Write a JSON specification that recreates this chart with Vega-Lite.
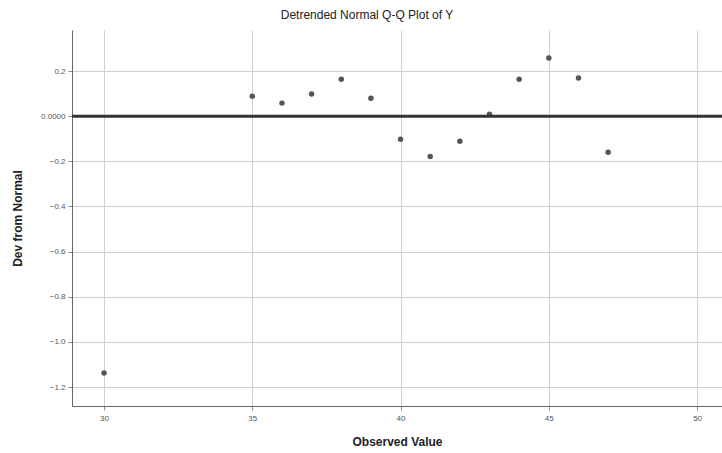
{
  "$schema": "https://vega.github.io/schema/vega-lite/v6.json",
  "autosize": "none",
  "width": 650,
  "height": 376,
  "padding": {"left": 72, "top": 30, "right": 0, "bottom": 47},
  "background": "white",
  "title": {
    "text": "Detrended Normal Q-Q Plot of Y",
    "font": "Liberation Sans",
    "fontSize": 12,
    "fontWeight": "normal",
    "color": "#222",
    "anchor": "middle",
    "dx": -30,
    "offset": 8
  },
  "config": {
    "view": {"stroke": null},
    "axis": {
      "labelFont": "Liberation Sans",
      "labelFontSize": 8,
      "labelColor": "#555",
      "titleFont": "Liberation Sans",
      "titleFontSize": 12,
      "titleFontWeight": "bold",
      "titleColor": "#222",
      "gridColor": "#cfcfcf",
      "gridWidth": 1,
      "domainColor": "#666",
      "tickColor": "#888",
      "tickSize": 4
    }
  },
  "layer": [
    {
      "data": {
        "values": [
          {"observed": 30, "dev": -1.138},
          {"observed": 35, "dev": 0.089},
          {"observed": 36, "dev": 0.058},
          {"observed": 37, "dev": 0.098},
          {"observed": 38, "dev": 0.164},
          {"observed": 39, "dev": 0.08},
          {"observed": 40, "dev": -0.102},
          {"observed": 41, "dev": -0.178},
          {"observed": 42, "dev": -0.111},
          {"observed": 43, "dev": 0.009},
          {"observed": 44, "dev": 0.164},
          {"observed": 45, "dev": 0.258},
          {"observed": 46, "dev": 0.169},
          {"observed": 47, "dev": -0.16}
        ]
      },
      "mark": {"type": "point", "filled": true, "color": "#555", "size": 30, "opacity": 1},
      "encoding": {
        "x": {
          "field": "observed",
          "type": "quantitative",
          "title": "Observed Value",
          "scale": {"domain": [28.92, 50.84], "nice": false, "zero": false},
          "axis": {"values": [30, 35, 40, 45, 50], "titlePadding": 14, "labelPadding": 4}
        },
        "y": {
          "field": "dev",
          "type": "quantitative",
          "title": "Dev from Normal",
          "scale": {"domain": [-1.284, 0.382], "nice": false, "zero": false},
          "axis": {
            "values": [-1.2, -1.0, -0.8, -0.6, -0.4, -0.2, 0, 0.2],
            "labelExpr": "datum.value == 0 ? '0.0000' : format(datum.value, '.1f')",
            "titlePadding": 16,
            "labelPadding": 3
          }
        }
      }
    },
    {
      "data": {"values": [{"ref": 0}]},
      "mark": {"type": "rule", "color": "#333", "strokeWidth": 3},
      "encoding": {"y": {"field": "ref", "type": "quantitative"}}
    }
  ]
}
